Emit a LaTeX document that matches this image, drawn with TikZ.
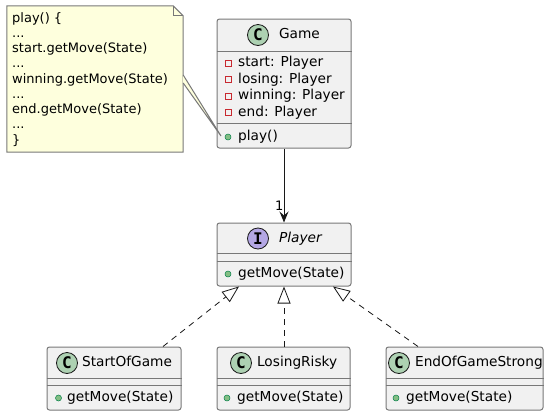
\documentclass[tikz,border=0pt]{standalone}
\usepackage{fontspec}
\setmainfont{DejaVu Sans}
\setmonofont{DejaVu Sans Mono}
\usetikzlibrary{positioning,arrows.meta}
\definecolor{boxfill}{HTML}{F1F1F1}
\definecolor{boxline}{HTML}{181818}
\definecolor{edgegray}{HTML}{787878}
\definecolor{notefill}{HTML}{FEFFDD}
\definecolor{classspot}{HTML}{ADD1B2}
\definecolor{ifacespot}{HTML}{B4A7E5}
\definecolor{privred}{HTML}{C82930}
\definecolor{pubfill}{HTML}{84BE84}
\definecolor{publine}{HTML}{038048}

\begin{document}
\begin{tikzpicture} [x=1pt, y=-1pt, node distance=4pt,
    luokka/.style={rectangle,draw=edgegray,line width=1pt,fill=boxfill,rounded corners=2.5pt,inner sep=0pt,minimum width=134pt,minimum height=63pt},
    spot/.style={circle,draw=boxline,line width=0.8pt,minimum size=21pt,inner sep=0pt,font=\ttfamily\bfseries\fontsize{16}{16}\selectfont},
    cname/.style={inner sep=0pt,text height=10pt,text depth=3pt,font=\fontsize{13.7}{16}\selectfont},
    member/.style={anchor=west,inner sep=0pt,text height=10pt,text depth=3pt,font=\fontsize{13.7}{16}\selectfont},
    priv/.style={rectangle,draw=privred,line width=0.8pt,minimum size=6pt,inner sep=0pt},
    pub/.style={circle,draw=publine,fill=pubfill,line width=0.5pt,minimum size=6pt,inner sep=0pt},
    divider/.style={draw=edgegray,line width=1pt},
    noteline/.style={draw=edgegray,line width=1pt},
    notetext/.style={anchor=north west,inner sep=0pt,align=left,font=\fontsize{13}{15.25}\selectfont},
    assoc/.style={-{Stealth[length=11pt,width=9pt,inset=4pt]},draw=boxline,line width=1pt},
    realize/.style={-{Triangle[open,length=17pt,width=13pt,fill=white]},draw=boxline,line width=0.8pt,dash pattern=on 6pt off 5pt}]

\useasboundingbox (0,0) rectangle (555,416);

% note
\node[minimum width=176pt,minimum height=146pt,inner sep=0pt] (note) at (95,79) {};
\filldraw[noteline,fill=notefill] (note.north west) -- ([xshift=-10pt]note.north east) -- ([yshift=-10pt]note.north east)
    -- (note.south east) -- (note.south west) -- cycle;
\draw[noteline] ([xshift=-10pt]note.north east) -- ([xshift=-10pt,yshift=-10pt]note.north east) -- ([yshift=-10pt]note.north east);
\node[notetext] (notetxt) at (12,12) {play() \{\\...\\start.getMove(State)\\...\\winning.getMove(State)\\...\\end.getMove(State)\\...\\\}};

% classes
\node[luokka,minimum height=129pt] (game) at (284,83.5) {};
\node[luokka] (player) at (284,254.5) {};
\node[luokka] (sog) at (114,378.5) {};
\node[luokka,minimum width=133pt] (lr) at (283.5,378.5) {};
\node[luokka,minimum width=157pt] (eogs) at (464.5,378.5) {};

\draw[divider] ([yshift=-32.5pt]game.north west) -- ([yshift=-32.5pt]game.north east);
\draw[divider] ([yshift=-105pt]game.north west) -- ([yshift=-105pt]game.north east);
\draw[divider] ([yshift=-31pt]player.north west) -- ([yshift=-31pt]player.north east);
\draw[divider] ([yshift=-39pt]player.north west) -- ([yshift=-39pt]player.north east);
\draw[divider] ([yshift=-32pt]sog.north west) -- ([yshift=-32pt]sog.north east);
\draw[divider] ([yshift=-39pt]sog.north west) -- ([yshift=-39pt]sog.north east);
\draw[divider] ([yshift=-32pt]lr.north west) -- ([yshift=-32pt]lr.north east);
\draw[divider] ([yshift=-39pt]lr.north west) -- ([yshift=-39pt]lr.north east);
\draw[divider] ([yshift=-32pt]eogs.north west) -- ([yshift=-32pt]eogs.north east);
\draw[divider] ([yshift=-39pt]eogs.north west) -- ([yshift=-39pt]eogs.north east);

% headers
\node[spot,fill=classspot] (gameC) at (258,35) {C};
\node[cname,right=10pt of gameC] (gameN) {Game};
\node[spot,fill=ifacespot] (playerC) at (258,238.5) {I};
\node[cname,right=10pt of playerC,font=\fontsize{13.7}{16}\selectfont\itshape] (playerN) {Player};
\node[spot,fill=classspot] (sogC) at (67,363) {C};
\node[cname,right=4pt of sogC] (sogN) {StartOfGame};
\node[spot,fill=classspot] (lrC) at (241,363) {C};
\node[cname,right=5pt of lrC] (lrN) {LosingRisky};
\node[spot,fill=classspot] (eogsC) at (399,363) {C};
\node[cname,right=5pt of eogsC] (eogsN) {EndOfGameStrong};

% members
\node[priv] (gameP1) at (228,63) {};
\node[member] (gameA1) at (238,63) {start: Player};
\node[priv] (gameP2) at (228,79.5) {};
\node[member] (gameA2) at (238,79.5) {losing: Player};
\node[priv] (gameP3) at (228,96) {};
\node[member] (gameA3) at (238,96) {winning: Player};
\node[priv] (gameP4) at (228,112.5) {};
\node[member] (gameA4) at (238,112.5) {end: Player};
\node[pub] (gameP5) at (228,137) {};
\node[member] (gameM1) at (238,137) {play()};

\node[pub] (playerP1) at (228,274) {};
\node[member] (playerM1) at (238,274) {getMove(State)};
\node[pub] (sogP1) at (58.5,398) {};
\node[member] (sogM1) at (67,398) {getMove(State)};
\node[pub] (lrP1) at (227,398) {};
\node[member] (lrM1) at (237,398) {getMove(State)};
\node[pub] (eogsP1) at (396,398) {};
\node[member] (eogsM1) at (406,398) {getMove(State)};

% note link
\coordinate (notetip) at (221,136);
\fill[notefill] ([yshift=4pt]note.east) -- (notetip) -- ([yshift=-4pt]note.east) -- cycle;
\draw[noteline] ([yshift=4pt]note.east) -- (notetip) -- ([yshift=-4pt]note.east);

% links
\path
    (game) edge[assoc] node[pos=1,anchor=south east,inner sep=0pt,yshift=12pt,font=\fontsize{13}{13}\selectfont] {1} (player)
    ([xshift=49pt]sog.north) edge[realize] ([xshift=-45pt]player.south)
    ([xshift=0.5pt]lr.north) edge[realize] (player.south)
    ([xshift=-46.5pt]eogs.north) edge[realize] ([xshift=49pt]player.south);
\end{tikzpicture}
\end{document}
